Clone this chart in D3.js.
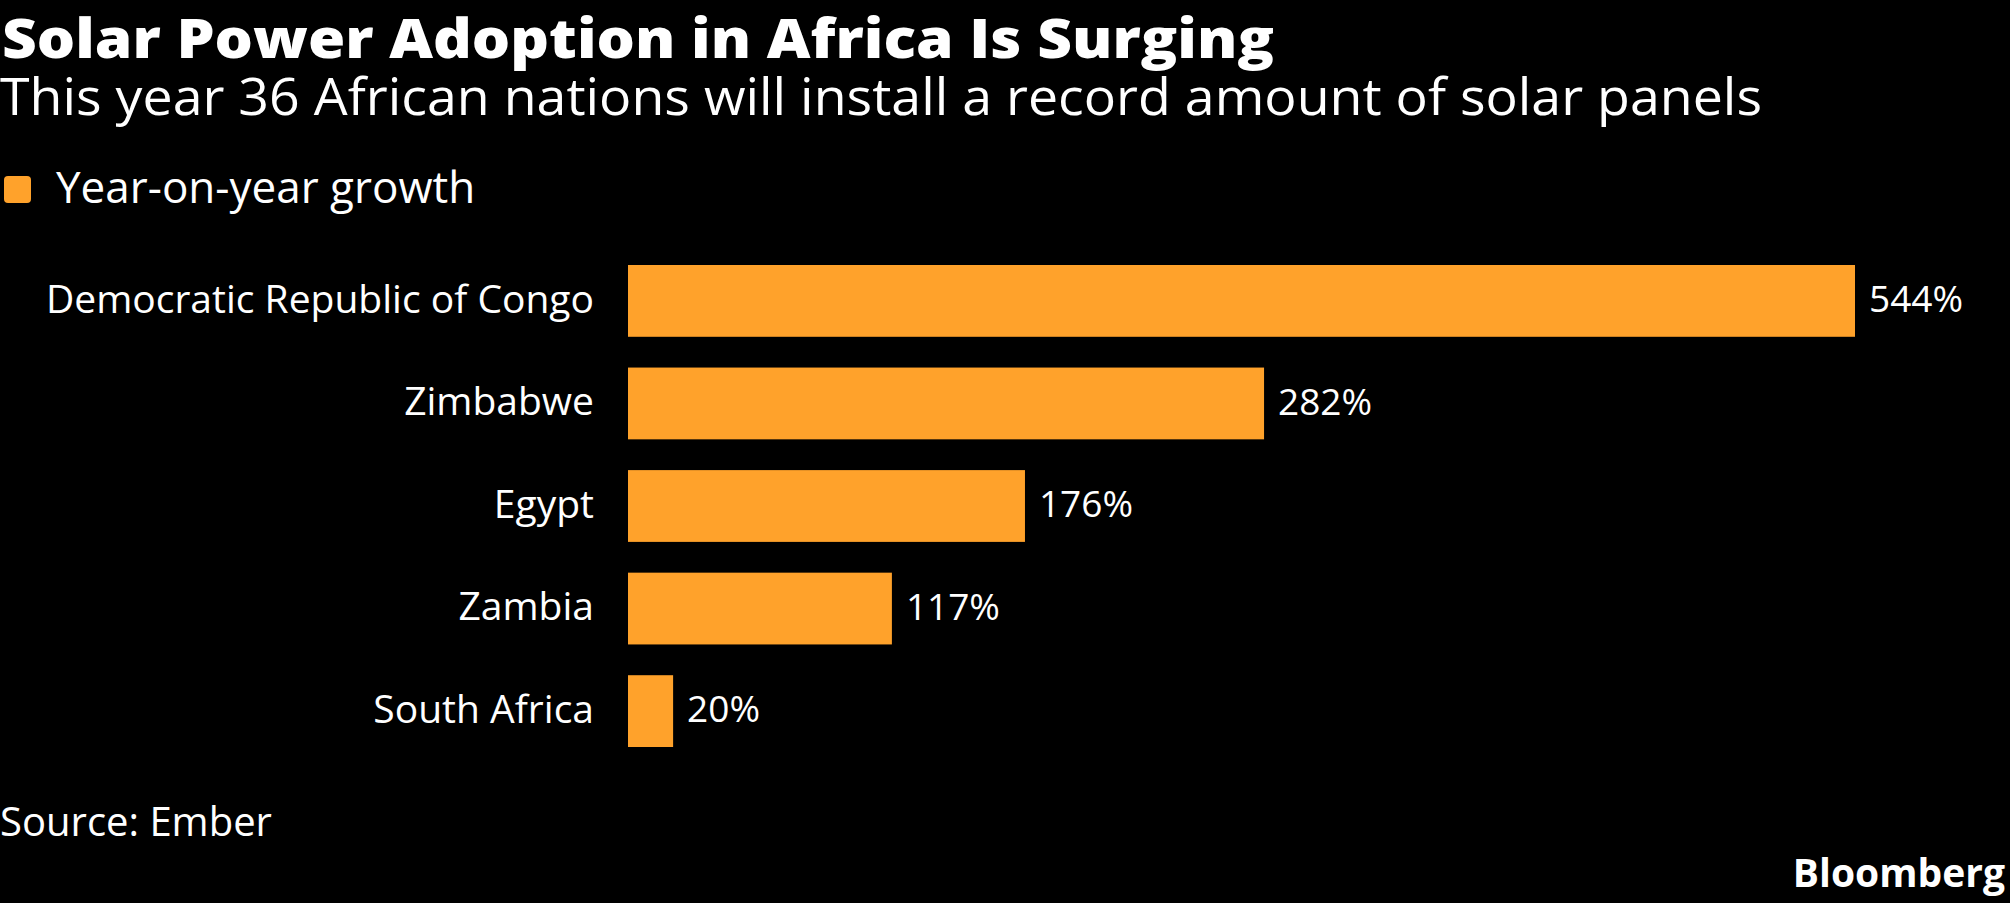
<!DOCTYPE html>
<html><head><meta charset="utf-8">
<script src="https://cdn.jsdelivr.net/npm/d3@7"></script>
<style>body{margin:0;background:#000}svg{display:block}text{font-family:"Open Sans","DejaVu Sans",sans-serif;fill:#fff}</style>
</head><body>
<script>
const countries = ["Democratic Republic of Congo", "Zimbabwe", "Egypt", "Zambia", "South Africa"];
const growth = [544, 282, 176, 117, 20];

const W = 2010, H = 903;
const svg = d3.select("body").append("svg").attr("width", W).attr("height", H);

// header
svg.append("text").attr("x", 2).attr("y", 58).attr("font-size", 54).attr("font-weight", 800)
  .attr("textLength", 1272).attr("lengthAdjust", "spacingAndGlyphs").text("Solar Power Adoption in Africa Is Surging");
svg.append("text").attr("x", 0).attr("y", 115).attr("font-size", 52)
  .attr("textLength", 1762).attr("lengthAdjust", "spacingAndGlyphs").text("This year 36 African nations will install a record amount of solar panels");

// legend
svg.append("rect").attr("x", 4).attr("y", 176).attr("width", 27).attr("height", 27).attr("rx", 4).attr("fill", "#ffa22b");
svg.append("text").attr("x", 56).attr("y", 203).attr("font-size", 44).text("Year-on-year growth");

// scales
const x = d3.scaleLinear().domain([0, 544]).range([628, 1855]);
const y = d3.scaleBand().domain(countries).range([265, 747]).paddingInner(0.3);
const data = countries.map((c, i) => ({c, v: growth[i]}));

svg.selectAll("rect.bar").data(data).enter().append("rect").attr("class", "bar")
  .attr("x", x(0)).attr("y", d => y(d.c)).attr("width", d => x(d.v) - x(0)).attr("height", y.bandwidth())
  .attr("fill", "#ffa22b");

svg.selectAll("text.lab").data(data).enter().append("text").attr("class", "lab")
  .attr("x", 594).attr("y", d => y(d.c) + y.bandwidth() / 2).attr("dy", "0.3em").attr("text-anchor", "end")
  .attr("font-size", 39).text(d => d.c);

svg.selectAll("text.val").data(data).enter().append("text").attr("class", "val")
  .attr("x", d => x(d.v) + 14).attr("y", d => y(d.c) + y.bandwidth() / 2).attr("dy", "0.3em")
  .attr("font-size", 37).text(d => d.v + "%");

// footer
svg.append("text").attr("x", 0).attr("y", 836).attr("font-size", 40).text("Source: Ember");
svg.append("text").attr("x", 2005).attr("y", 887).attr("text-anchor", "end").attr("font-size", 39).attr("font-weight", 700).text("Bloomberg");
</script>
</body></html>
